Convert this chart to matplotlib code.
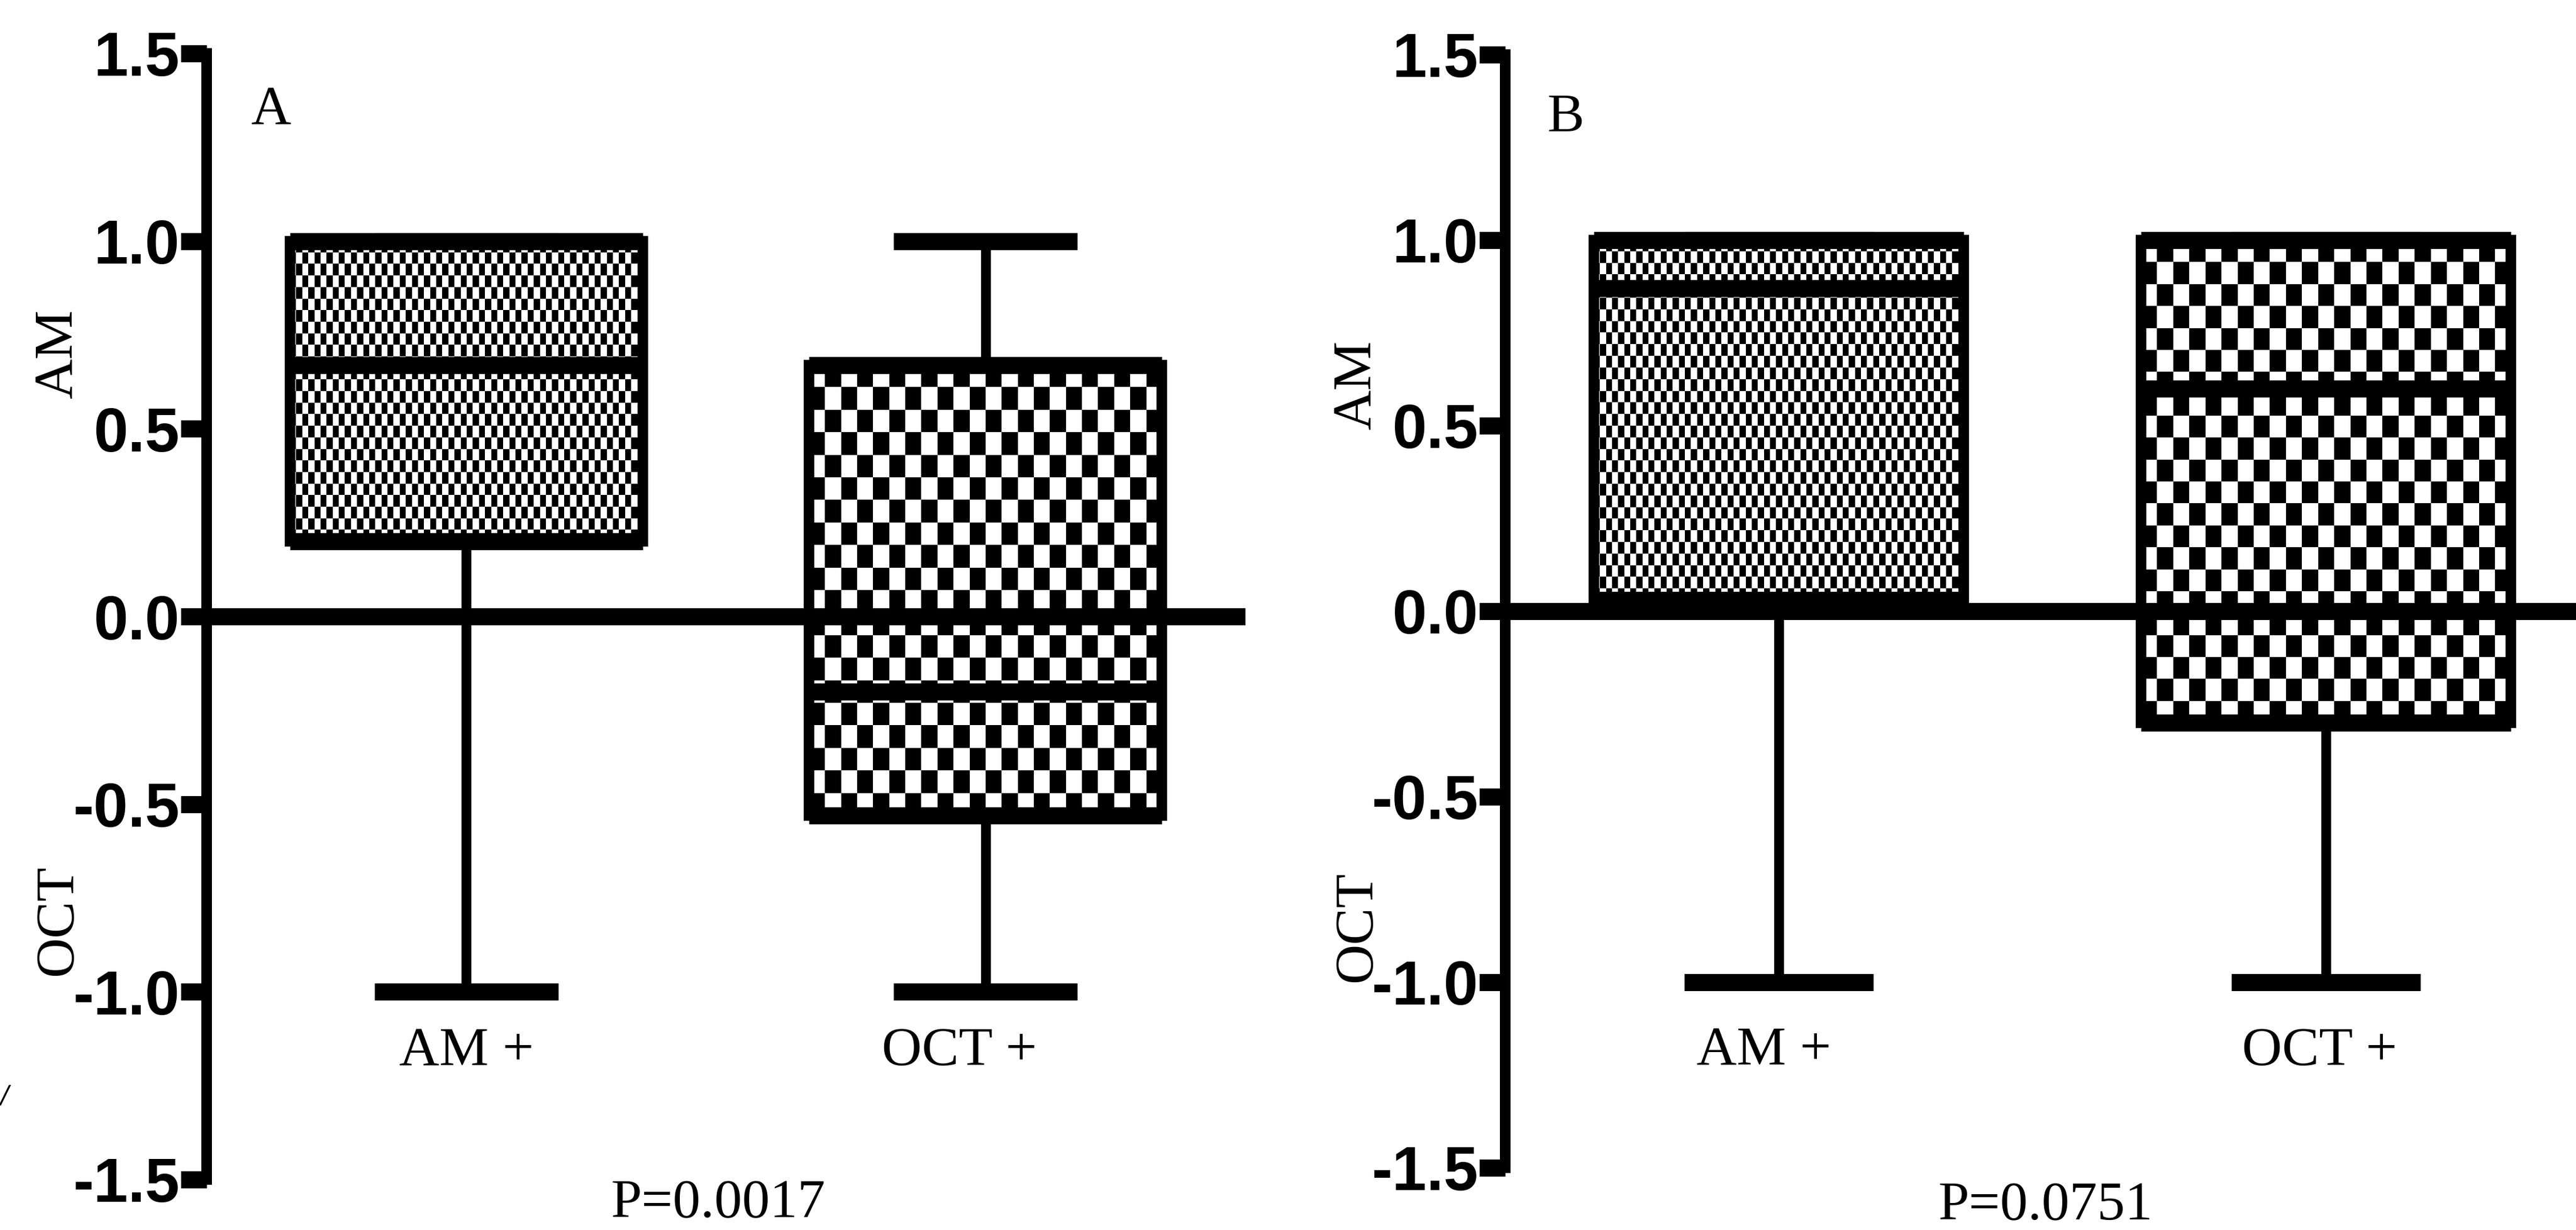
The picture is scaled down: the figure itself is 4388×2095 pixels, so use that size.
import matplotlib
matplotlib.use("Agg")
import matplotlib.pyplot as plt
import numpy as np
from matplotlib import font_manager

plt.rcParams['axes.unicode_minus'] = False

# ---------------- data ----------------
categories = ['AM +', 'OCT +']
panel_letters = ['A', 'B']
p_texts = ['P=0.0017', 'P=0.0751']

a_min = [-1.0, -1.0]
a_q1 = [0.20, -0.53]
a_med = [0.67, -0.20]
a_q3 = [1.00, 0.67]
a_max = [1.00, 1.00]

b_min = [-1.0, -1.0]
b_q1 = [0.03, -0.30]
b_med = [0.87, 0.60]
b_q3 = [1.00, 1.00]
b_max = [1.00, 1.00]

yticks = [-1.5, -1.0, -0.5, 0.0, 0.5, 1.0, 1.5]
ytick_labels = ['-1.5', '-1.0', '-0.5', '0.0', '0.5', '1.0', '1.5']
ylabel_top = 'AM'
ylabel_bottom = 'OCT'

# ---------------- fonts ----------------
names = {f.name for f in font_manager.fontManager.ttflist}
if 'Liberation Sans Narrow' in names:
    tick_font, tick_size = 'Liberation Sans Narrow', 88
elif 'DejaVu Sans Condensed' in names:
    tick_font, tick_size = 'DejaVu Sans Condensed', 70
else:
    tick_font, tick_size = 'Liberation Sans', 76
serif = ['Liberation Serif', 'DejaVu Serif']
serif_size = 68

W, H, DPI = 4388, 2095, 100
fig = plt.figure(figsize=(W / DPI, H / DPI), dpi=DPI)

panels = [
    dict(rect=[352 / W, 1 - 2009 / H, 1769 / W, 1918 / H],
         data=(a_min, a_q1, a_med, a_q3, a_max),
         box_w=0.68, cap_w=0.354,
         fine=(0.0117, 0.0305), coarse=(0.0305, 0.0595),
         ylab_x=-0.1425, ylab_y=(0.70, -0.81),
         letter_xy=(0.624, 1.346), cat_y=-1.16, cat_dx=(0.0, -0.05),
         p_xy=(0.2787, 0.021)),
    dict(rect=[2564 / W, 1 - 1989 / H, 1864 / W, 1896 / H],
         data=(b_min, b_q1, b_med, b_q3, b_max),
         box_w=0.676, cap_w=0.345,
         fine=(0.0110, 0.0309), coarse=(0.030, 0.060),
         ylab_x=-0.135, ylab_y=(0.61, -0.85),
         letter_xy=(0.61, 1.33), cat_y=-1.187, cat_dx=(-0.027, -0.012),
         p_xy=(0.794, 0.019)),
]

positions = [1, 2]

for i, cfg in enumerate(panels):
    ax = fig.add_axes(cfg['rect'])
    mins, q1s, meds, q3s, maxs = cfg['data']
    stats = [dict(whislo=mins[k], q1=q1s[k], med=meds[k], q3=q3s[k],
                  whishi=maxs[k], fliers=[]) for k in range(len(categories))]
    res = ax.bxp(stats, positions=positions, widths=cfg['box_w'],
                 capwidths=cfg['cap_w'], patch_artist=True, showfliers=False,
                 manage_ticks=False,
                 boxprops=dict(facecolor='white', edgecolor='black', linewidth=13),
                 whiskerprops=dict(color='black', linewidth=12, solid_capstyle='butt'),
                 capprops=dict(color='black', linewidth=21, solid_capstyle='butt'),
                 medianprops=dict(color='black', linewidth=21, solid_capstyle='butt'))
    ax.set_xlim(0.5, 2.5)
    ax.set_ylim(-1.5, 1.5)

    # checkerboard textures
    for k, patch in enumerate(res['boxes']):
        cw, ch = cfg['fine'] if k == 0 else cfg['coarse']
        x0 = positions[k] - cfg['box_w'] / 2
        x1 = positions[k] + cfg['box_w'] / 2
        y0, y1 = q1s[k], q3s[k]
        ncol = max(1, int(round((x1 - x0) / cw)))
        nrow = max(1, int(round((y1 - y0) / ch)))
        rr, cc = np.indices((nrow, ncol))
        board = ((rr + cc) % 2).astype(float)
        im = ax.imshow(board, cmap='gray', vmin=0, vmax=1, extent=[x0, x1, y0, y1],
                       origin='lower', interpolation='nearest', aspect='auto', zorder=1.5)
        im.set_clip_path(patch)
        patch.set_zorder(1.6)
        patch.set_facecolor('none')
        ax.hlines([y0, y1], x0, x1, colors='black', linewidth=21, zorder=1.7,
                  capstyle='butt')

    # spines
    for s in ['top', 'right']:
        ax.spines[s].set_visible(False)
    ax.spines['left'].set_linewidth(13)
    ax.spines['left'].set_capstyle('projecting')
    ax.spines['bottom'].set_position(('data', 0))
    ax.spines['bottom'].set_linewidth(21)
    ax.spines['bottom'].set_capstyle('butt')
    ax.spines['bottom'].set_zorder(3)

    ax.set_yticks(yticks)
    ax.set_yticklabels(ytick_labels, fontfamily=tick_font, fontweight='bold',
                       fontsize=tick_size)
    ax.tick_params(axis='y', length=32, width=21, pad=1, direction='out')
    ax.set_xticks([])
    ax.tick_params(axis='x', length=0)
    ax.patch.set_visible(False)

    # category labels
    for k, cat in enumerate(categories):
        ax.text(positions[k] + cfg['cat_dx'][k], cfg['cat_y'], cat, ha='center',
                va='center', fontfamily=serif, fontsize=serif_size)

    # panel letter
    ax.text(cfg['letter_xy'][0], cfg['letter_xy'][1], panel_letters[i],
            ha='center', va='center', fontfamily=serif, fontsize=serif_size)

    # split y labels
    tr = ax.get_yaxis_transform()
    ax.text(cfg['ylab_x'], cfg['ylab_y'][0], ylabel_top, transform=tr, rotation=90,
            ha='center', va='center', fontfamily=serif, fontsize=serif_size)
    ax.text(cfg['ylab_x'], cfg['ylab_y'][1], ylabel_bottom, transform=tr, rotation=90,
            ha='center', va='center', fontfamily=serif, fontsize=serif_size)

    fig.text(cfg['p_xy'][0], cfg['p_xy'][1], p_texts[i], ha='center', va='center',
             fontfamily=serif, fontsize=serif_size)

# stray clipped glyph at the left edge
fig.text(0.0015, 0.109, '/', ha='center', va='center', fontsize=30, fontstyle='italic')

fig.savefig('out.png', dpi=DPI)
